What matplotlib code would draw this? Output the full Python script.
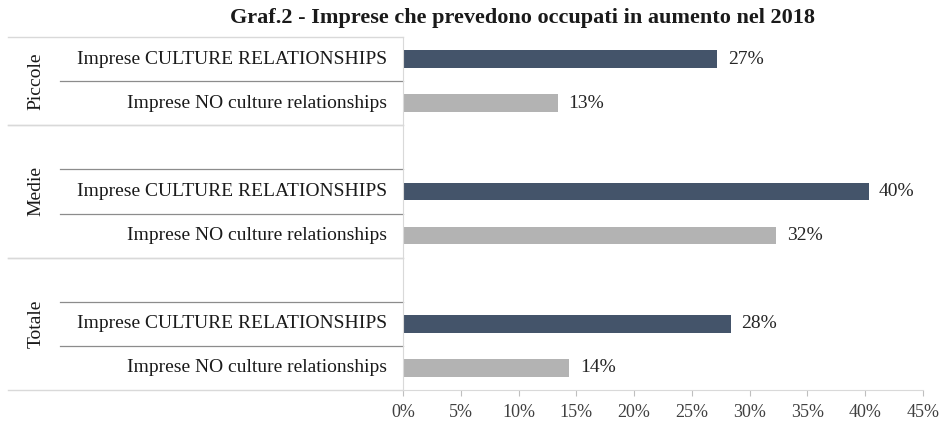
import matplotlib
matplotlib.use("Agg")
import matplotlib.pyplot as plt
import matplotlib.transforms as mtransforms

# ---- data ----
groups = ["Piccole", "Medie", "Totale"]
series_labels = ["Imprese CULTURE RELATIONSHIPS", "Imprese NO culture relationships"]
culture = [27.2, 40.3, 28.4]      # %
no_culture = [13.4, 32.3, 14.4]   # %
x_ticks = [0, 5, 10, 15, 20, 25, 30, 35, 40, 45]
title = "Graf.2 - Imprese che prevedono occupati in aumento nel 2018"

# slot layout: Piccole has 2 rows, Medie and Totale have a blank row first
group_slots = [[0, 1], [2, 3, 4], [5, 6, 7]]

dark = "#44546a"
light = "#b3b3b3"
serif = ["Liberation Serif", "DejaVu Serif"]
plt.rcParams["font.family"] = serif

fig = plt.figure(figsize=(9.43, 4.28), dpi=100)
L, R, T, B = 403, 923, 37, 390
W, H = 943, 428
ax = fig.add_axes([L / W, 1 - B / H, (R - L) / W, (B - T) / H])

pos_c, pos_n = [], []
for slots in group_slots:
    pos_c.append(slots[-2])
    pos_n.append(slots[-1])

bh = 0.4
ax.barh(pos_c, culture, height=bh, color=dark)
ax.barh(pos_n, no_culture, height=bh, color=light)
for p, v in zip(pos_c, culture):
    ax.text(v + 0.9, p, f"{v:.0f}%", va="center", ha="left", fontsize=14, color="#262626")
for p, v in zip(pos_n, no_culture):
    ax.text(v + 0.9, p, f"{v:.0f}%", va="center", ha="left", fontsize=14, color="#262626")

ax.set_xlim(0, 45)
ax.set_ylim(7.5, -0.5)
ax.set_xticks(x_ticks)
ax.set_xticklabels([f"{t}%" for t in x_ticks], fontsize=13, color="#404040")
ax.tick_params(axis="x", length=4, color="#bfbfbf", pad=6)
ax.set_yticks([])
for s in ["top", "right"]:
    ax.spines[s].set_visible(False)
ax.spines["left"].set_color("#d9d9d9")
ax.spines["bottom"].set_color("#d9d9d9")

trans = mtransforms.blended_transform_factory(ax.transAxes, ax.transData)
def ax_x(px):
    return (px - L) / (R - L)

for gi, slots in enumerate(group_slots):
    top = slots[0] - 0.5
    bot = slots[-1] + 0.5
    for p, lab in zip([slots[-2], slots[-1]], series_labels):
        ax.text(ax_x(387), p, lab, transform=trans, ha="right", va="center",
                fontsize=14, color="#1a1a1a")
    for s in slots[:-1]:
        ax.plot([ax_x(60), 0], [s + 0.5, s + 0.5], transform=trans, color="#8c8c8c",
                lw=0.9, clip_on=False)
    for yb in [top, bot]:
        ax.plot([ax_x(8), 0], [yb, yb], transform=trans, color="#d9d9d9",
                lw=1.0, clip_on=False)
    ax.text(ax_x(36), (top + bot) / 2, groups[gi], transform=trans, rotation=90,
            ha="center", va="center", fontsize=14, color="#1a1a1a")

fig.text(523 / W, 1 - 18 / H, title, ha="center", va="center", fontsize=16,
         fontweight="bold", color="#1a1a1a")

fig.savefig("out.png", dpi=100)
